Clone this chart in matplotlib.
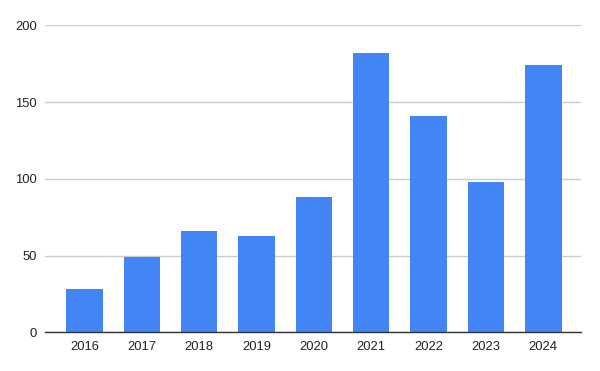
import matplotlib
matplotlib.use("Agg")
import matplotlib.pyplot as plt

years = ["2016", "2017", "2018", "2019", "2020", "2021", "2022", "2023", "2024"]
values = [28, 49, 66, 63, 88, 182, 141, 98, 174]
yticks = [0, 50, 100, 150, 200]

plt.rcParams['font.family'] = ['Liberation Sans', 'DejaVu Sans']

fig = plt.figure(figsize=(6, 3.71), dpi=100)
ax = fig.add_axes([0.075, 0.1043, 0.893, 0.8275])

x = list(range(len(years)))
ax.bar(x, values, width=0.634, color="#4285F4", zorder=3)

ax.set_xlim(-0.688, len(years) - 1 + 0.653)
ax.set_ylim(0, 200)
ax.set_yticks(yticks)
ax.set_yticklabels([str(v) for v in yticks])
ax.set_xticks(x)
ax.set_xticklabels(years)

ax.grid(axis='y', color="#cccccc", linewidth=1, zorder=0)
for s in ["top", "right", "left"]:
    ax.spines[s].set_visible(False)
ax.spines["bottom"].set_color("#333333")
ax.spines["bottom"].set_linewidth(1)
ax.spines["bottom"].set_zorder(4)

ax.tick_params(axis='both', length=0, labelsize=9.4, colors="#222222")
ax.tick_params(axis='y', pad=6)
ax.tick_params(axis='x', pad=6)

fig.savefig("out.png", dpi=100, facecolor="white")
